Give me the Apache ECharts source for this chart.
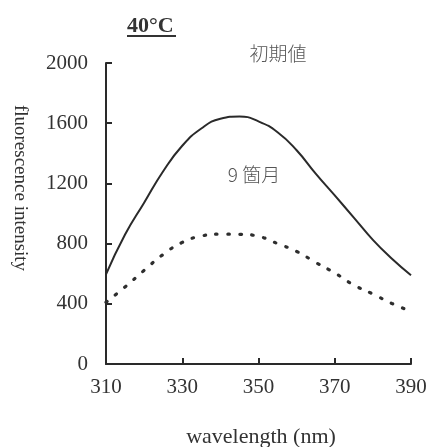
<!DOCTYPE html>
<html>
<head>
<meta charset="utf-8">
<script src="https://cdn.jsdelivr.net/npm/echarts@6/dist/echarts.min.js"></script>
<style>
  html, body { margin: 0; padding: 0; background: #fff; }
  #chart { width: 430px; height: 447px; }
</style>
</head>
<body>
<div id="chart"></div>
<script>
// Emission wavelengths (nm)
const wavelengths = [310, 315, 320, 325, 330, 335, 340, 345, 350, 355, 360, 365, 370, 375, 380, 385, 390];
// Initial fluorescence spectrum
const initialValues = [595, 860, 1072, 1281, 1450, 1565, 1630, 1645, 1612, 1540, 1420, 1265, 1120, 973, 825, 700, 590];
// Spectrum after 9 months at 40°C
const nineMonthValues = [410, 512, 622, 728, 808, 850, 863, 862, 848, 800, 748, 675, 605, 525, 465, 402, 350];
// Axis ticks
const xTicks = [310, 330, 350, 370, 390];
const yTicks = [0, 400, 800, 1200, 1600, 2000];

const serif = '"Liberation Serif", "DejaVu Serif", serif';
const cjk = '"Noto Sans CJK JP", "Noto Sans CJK SC", sans-serif';
const ink = '#2a2a2a';

const pairs = (vals) => wavelengths.map((w, i) => [w, vals[i]]);

const chart = echarts.init(document.getElementById('chart'));
chart.setOption({
  animation: false,
  backgroundColor: '#fff',
  grid: { left: 106, right: 19, top: 63, bottom: 83 },
  xAxis: {
    type: 'value',
    min: xTicks[0], max: xTicks[xTicks.length - 1], interval: 20,
    splitLine: { show: false },
    axisLine: { lineStyle: { color: ink, width: 2 } },
    axisTick: { inside: true, length: 6, lineStyle: { color: ink, width: 2 } },
    axisLabel: { color: '#333', fontFamily: serif, fontSize: 21, margin: 13, formatter: (v) => String(v) }
  },
  yAxis: {
    type: 'value',
    min: yTicks[0], max: yTicks[yTicks.length - 1], interval: 400,
    splitLine: { show: false },
    axisLine: { show: true, lineStyle: { color: ink, width: 2 } },
    axisTick: { show: true, inside: true, length: 6, lineStyle: { color: ink, width: 2 } },
    axisLabel: { color: '#333', fontFamily: serif, fontSize: 21, margin: 18, formatter: (v) => String(v) }
  },
  series: [
    {
      name: '初期値',
      type: 'line',
      data: pairs(initialValues),
      smooth: true,
      showSymbol: false,
      lineStyle: { color: ink, width: 2 }
    },
    {
      name: '9 箇月',
      type: 'line',
      data: pairs(nineMonthValues),
      smooth: true,
      showSymbol: false,
      lineStyle: { color: '#2e2e2e', width: 3.2, type: [1.5, 10.5], cap: 'round' }
    }
  ],
  graphic: [
    {
      type: 'text', left: 127, top: 15,
      style: { text: '40°C', fontFamily: serif, fontSize: 22, fontWeight: 'bold', fill: '#333' }
    },
    {
      type: 'line', shape: { x1: 127, y1: 36, x2: 176, y2: 36 },
      style: { stroke: '#333', lineWidth: 2 }
    },
    {
      type: 'text', x: 278, y: 54,
      style: { text: '初期値', fontFamily: cjk, fontSize: 19, fontWeight: 300, fill: '#555', align: 'center', verticalAlign: 'middle' }
    },
    {
      type: 'text', x: 254, y: 175,
      style: { text: '9 箇月', fontFamily: cjk, fontSize: 19, fontWeight: 300, fill: '#555', align: 'center', verticalAlign: 'middle' }
    },
    {
      type: 'text', x: 20, y: 188, rotation: -Math.PI / 2,
      style: { text: 'fluorescence intensity', fontFamily: serif, fontSize: 19, fill: '#333', align: 'center', verticalAlign: 'middle' }
    },
    {
      type: 'text', x: 261, y: 437,
      style: { text: 'wavelength (nm)', fontFamily: serif, fontSize: 22, fill: '#333', align: 'center', verticalAlign: 'middle' }
    }
  ]
});
</script>
</body>
</html>
